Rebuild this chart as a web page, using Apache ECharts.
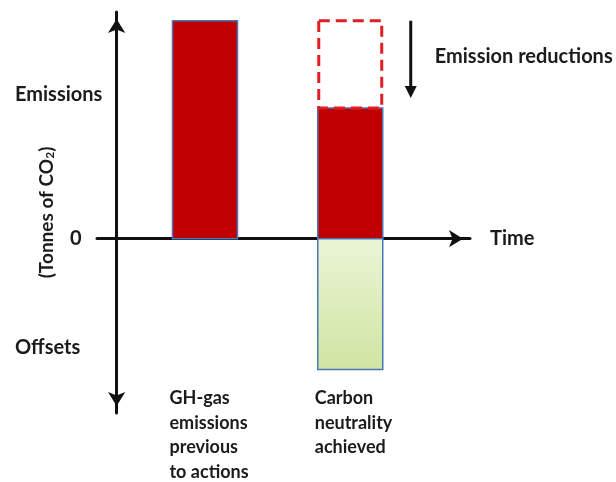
<!DOCTYPE html>
<html>
<head>
<meta charset="utf-8">
<script src="https://cdn.jsdelivr.net/npm/echarts@6/dist/echarts.min.js"></script>
<style>html,body{margin:0;padding:0;background:#fff}#c{width:616px;height:482px}</style>
</head>
<body>
<div id="c"></div>
<script>
// ---- data ----
const categories = ['GH-gas\nemissions\nprevious\nto actions', 'Carbon\nneutrality\nachieved'];
const timePositions = [9, 23.8];
const emissions = [100, 60];
const reductions = [0, 40];
const offsets = [0, -60];
const yTickValues = [66, 0, -50];
const yTickLabels = ['Emissions', '0', 'Offsets'];
const reductionLabel = 'Emission reductions';
const xAxisName = 'Time';

const FONT = 'Lato';
const TXT = '#1b1b1b';
const barWidthUnits = 6.62;

const seriesData = categories.map((c, i) => [timePositions[i], emissions[i], reductions[i], offsets[i], i]);

function renderItem(params, api) {
  const x = api.value(0), e = api.value(1), r = api.value(2), o = api.value(3), idx = api.value(4);
  const L = api.coord([x - barWidthUnits / 2, 0]);
  const R = api.coord([x + barWidthUnits / 2, 0]);
  const zeroY = L[1];
  const w = R[0] - L[0];
  const topE = api.coord([x, e])[1];
  const children = [];
  children.push({
    type: 'rect', shape: {x: L[0], y: topE, width: w, height: zeroY - topE},
    style: {fill: '#C00000', stroke: '#4A78B5', lineWidth: 1.5}
  });
  if (r > 0) {
    const topR = api.coord([x, e + r])[1];
    children.push({
      type: 'rect', shape: {x: L[0] + 1, y: topR, width: w - 2, height: topE - topR},
      style: {fill: null, stroke: '#DD1F26', lineWidth: 3, lineDash: [11, 6]}
    });
    const ax = R[0] + 28;
    const aTop = topR;
    const aBot = topE - 10;
    children.push({type: 'line', shape: {x1: ax, y1: aTop, x2: ax, y2: aBot - 8}, style: {stroke: '#111', lineWidth: 3}});
    children.push({type: 'polygon', shape: {points: [[ax - 6, aBot - 12], [ax + 6, aBot - 12], [ax, aBot]]}, style: {fill: '#111'}});
    children.push({
      type: 'text', x: R[0] + 52, y: (aTop + aBot) / 2 - 3,
      style: {text: reductionLabel, font: 'bold 20px ' + FONT, fill: TXT, textAlign: 'left', textVerticalAlign: 'middle'}
    });
  }
  if (o < 0) {
    const botO = api.coord([x, o])[1];
    children.push({
      type: 'rect', shape: {x: L[0], y: zeroY, width: w, height: botO - zeroY},
      style: {
        fill: {type: 'linear', x: 0, y: 0, x2: 0, y2: 1, colorStops: [{offset: 0, color: '#EBF5D6'}, {offset: 1, color: '#D0E5A2'}]},
        stroke: '#4A78B5', lineWidth: 1.5
      }
    });
  }
  const yBottom = api.coord([x, -80])[1];
  children.push({
    type: 'text', x: L[0] - 3, y: yBottom - 27,
    style: {text: categories[idx], font: 'bold 18px ' + FONT, fill: TXT, textAlign: 'left', textVerticalAlign: 'top', lineHeight: 24.5}
  });
  return {type: 'group', children: children};
}

const chart = echarts.init(document.getElementById('c'), null, {renderer: 'canvas'});
chart.setOption({
  animation: false,
  backgroundColor: '#fff',
  grid: {left: 97, right: 146, top: 12, bottom: 69, containLabel: false, outerBoundsMode: 'none'},
  xAxis: {
    type: 'value', min: -2, max: 36,
    axisLine: {onZero: true, lineStyle: {color: '#111', width: 3}, symbol: ['none', 'arrow'], symbolSize: [13, 14], symbolOffset: [0, -7]},
    axisTick: {show: false}, axisLabel: {show: false}, splitLine: {show: false},
    name: xAxisName, nameLocation: 'end', nameGap: 20, nameMoveOverlap: false,
    nameTextStyle: {fontFamily: FONT, fontWeight: 'bold', fontSize: 20, color: TXT, align: 'left', verticalAlign: 'middle', padding: [42, 0, 0, 0]}
  },
  yAxis: {
    type: 'value', min: -80, max: 104,
    axisLine: {onZero: true, lineStyle: {color: '#111', width: 3}, symbol: ['arrow', 'arrow'], symbolSize: [13, 14], symbolOffset: [7, -7]},
    axisTick: {show: false}, splitLine: {show: false},
    axisLabel: {
      customValues: yTickValues, align: 'left', margin: 82,
      formatter: function (v) {
        const i = yTickValues.indexOf(v);
        const t = yTickLabels[i];
        return t === '0' ? '{z|' + t + '}' : '{a|' + t + '}';
      },
      rich: {
        a: {fontFamily: FONT, fontWeight: 'bold', fontSize: 20, color: TXT},
        z: {fontFamily: FONT, fontWeight: 'bold', fontSize: 20, color: TXT, padding: [0, 0, 0, 55]}
      }
    },
    name: '(Tonnes of CO{s|2})', nameLocation: 'middle', nameRotate: 90, nameGap: 41, nameMoveOverlap: false,
    nameTextStyle: {fontFamily: FONT, fontWeight: 'bold', fontSize: 19, color: TXT,
      rich: {s: {fontFamily: FONT, fontWeight: 'bold', fontSize: 12, color: TXT, padding: [7, 0, 0, 0]}}}
  },
  series: [{
    type: 'custom', renderItem: renderItem, data: seriesData,
    encode: {x: 0, y: 1}, clip: false, z: 5
  }]
});
</script>
</body>
</html>
